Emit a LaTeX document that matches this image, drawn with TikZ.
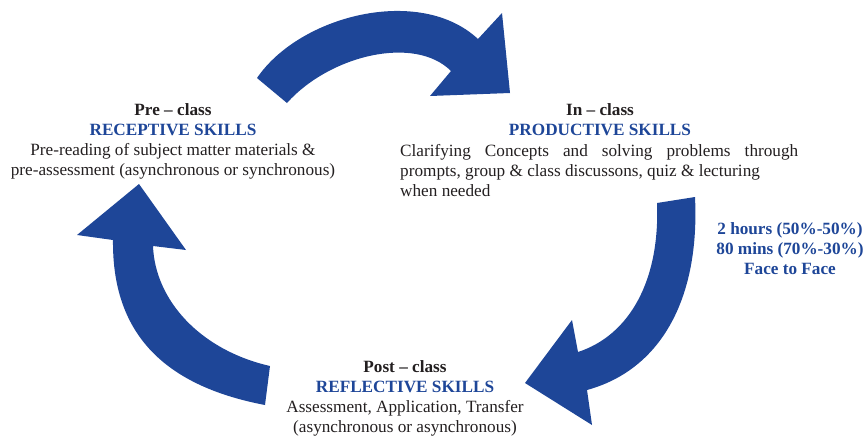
\documentclass[tikz,border=0pt]{standalone}
\usepackage{fontspec}
\setmainfont{Liberation Serif}
\definecolor{blu}{RGB}{30,70,152}
\definecolor{ink}{RGB}{35,31,32}
\begin{document}
\begin{tikzpicture}[x=1pt,y=-1pt,
  txt/.style={inner sep=0pt, align=center, font=\fontsize{17.2}{20}\selectfont, text=ink},
  bluetxt/.style={txt, text=blu, font=\fontsize{17.2}{20}\selectfont\bfseries},
  arr/.style={fill=blu, draw=none}]
\useasboundingbox (0,0) rectangle (865,437);
% top arrow
\fill[arr] (257,78) .. controls (300,15) and (420,-15) .. (478,39)
  -- (502,13) -- (510,93) -- (430,96) -- (451,71)
  .. controls (415,35) and (330,55) .. (287,103) -- cycle;
% right arrow
\fill[arr] (657,203) -- (695,197) .. controls (700,300) and (660,370) .. (587,390)
  -- (592,425) -- (525,383) -- (572,320) -- (578,352)
  .. controls (630,335) and (660,280) .. (657,203) -- cycle;
% left arrow
\fill[arr] (265,405) .. controls (160,385) and (112,330) .. (113,240)
  -- (77,235) -- (139,184) -- (186,250) -- (153,246)
  .. controls (155,300) and (200,350) .. (270,366) -- cycle;
% texts
\node[txt] (pre) at (173,141) {\textbf{Pre -- class}\\{\color{blu}\textbf{RECEPTIVE SKILLS}}\\Pre-reading of subject matter materials \&\\pre-assessment (asynchronous or synchronous)};
\node[txt] (inhead) at (600,120) {\textbf{In -- class}\\{\color{blu}\textbf{PRODUCTIVE SKILLS}}};
\node[txt, align=left, anchor=west] (inbody) at (400,171) {\makebox[398pt][s]{Clarifying Concepts and solving problems through}\\prompts, group \& class discussons, quiz \& lecturing\\when needed};
\node[bluetxt] (time) at (790,249) {2 hours (50\%-50\%)\\80 mins (70\%-30\%)\\Face to Face};
\node[txt] (post) at (405,398) {\textbf{Post -- class}\\{\color{blu}\textbf{REFLECTIVE SKILLS}}\\Assessment, Application, Transfer\\(asynchronous or asynchronous)};
\end{tikzpicture}
\end{document}
